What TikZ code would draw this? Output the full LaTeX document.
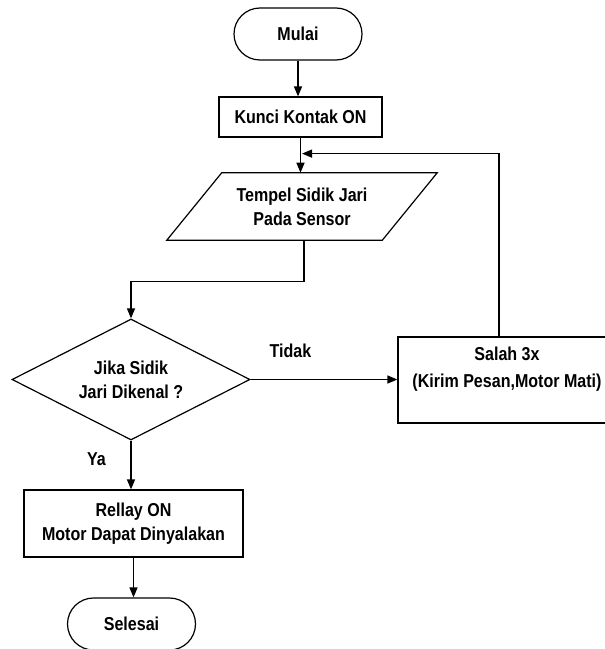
\documentclass[tikz,border=0pt]{standalone}
\usepackage{fontspec}
\setmainfont{Liberation Sans}[FakeStretch=0.86]
\usetikzlibrary{shapes.geometric,arrows.meta,calc}
\begin{document}
\begin{tikzpicture}[x=0.75pt,y=-0.75pt,
  every node/.style={font=\fontsize{14}{18}\selectfont\bfseries, align=center},
  arr/.style={line width=1pt,-{Triangle[length=7.5pt,width=6pt]}},
  terminal/.style={draw,line width=0.9pt,rounded corners=19.5pt,minimum width=96pt,minimum height=39pt,inner sep=0pt},
  proc/.style={draw,line width=0.9pt,inner sep=0pt},
  decision/.style={diamond,draw,line width=0.9pt,aspect=2,inner sep=0pt},
]
\useasboundingbox (0,0) rectangle (605,649);
\node[terminal] (mulai) at (298,34) {Mulai};
\node[proc,minimum width=122.25pt,minimum height=30pt] (kunci) at (300.5,117) {Kunci Kontak ON};
\node[minimum width=161.25pt,minimum height=50.25pt,inner sep=0pt] (para) at (302,206.5) {Tempel Sidik Jari\\Pada Sensor};
\draw[line width=0.9pt] ($(para.north west)+(27.5,0)$) -- ($(para.north east)+(27.5,0)$) -- ($(para.south east)+(-27.5,0)$) -- ($(para.south west)+(-27.5,0)$) -- cycle;
\node[decision,minimum width=178.5pt,minimum height=90.75pt] (dec) at (131,379.5) {Jika Sidik\\Jari Dikenal ?};
\node[proc,minimum width=163.5pt,minimum height=64.5pt] (salah) at (507,380) {};
\node[font=\fontsize{14}{20.25}\selectfont\bfseries] (salahtxt) at (507,369.5) {Salah 3x\\(Kirim Pesan,Motor Mati)};
\node[proc,minimum width=164.25pt,minimum height=50.25pt] (rellay) at (133.5,523.5) {Rellay ON\\Motor Dapat Dinyalakan};
\node[terminal] (selesai) at (131.5,624) {Selesai};
\node (tidak) at (290.5,351) {Tidak};
\node (ya) at (96.5,459) {Ya};
\coordinate (merge) at ($(kunci.south)+(1.5,16)$);
\draw[arr] (mulai.south) -- (mulai.south |- kunci.north);
\draw[arr] (kunci.south) -- (kunci.south |- para.north);
\draw[arr] ($(salah.north)+(-8,0)$) |- (merge);
\draw[arr] ($(para.south)+(2,0)$) -- ++(0,41) -| (dec.north);
\draw[arr] (dec.east) -- (dec.east -| salah.west);
\draw[arr] (dec.south) -- (dec.south |- rellay.north);
\draw[arr] (rellay.south) -- (rellay.south |- selesai.north);
\end{tikzpicture}
\end{document}
